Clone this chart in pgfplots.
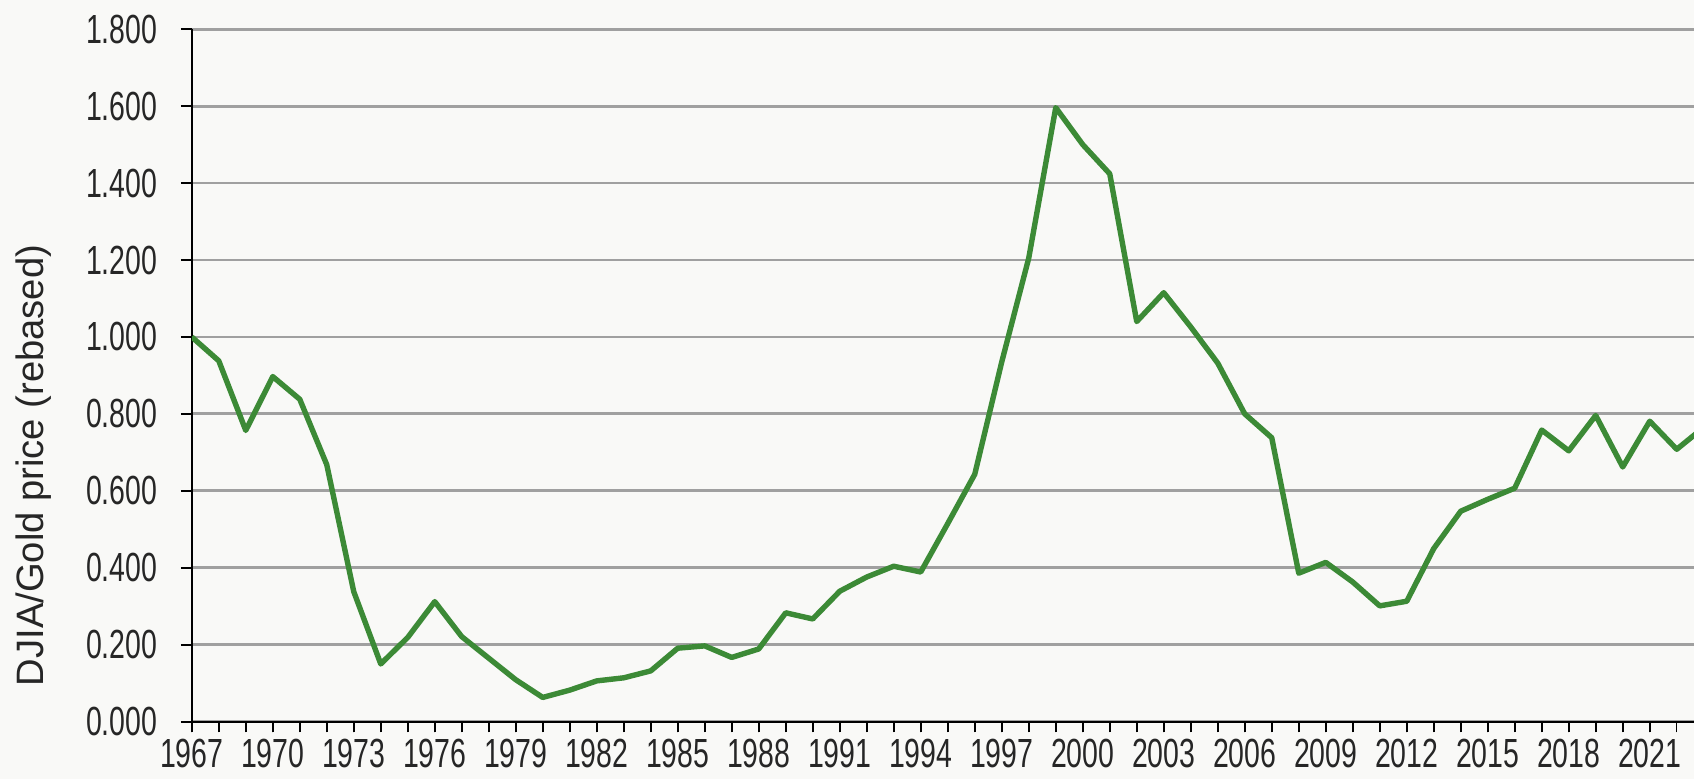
\documentclass[border=0pt]{standalone}
\usepackage{fontspec}
\setmainfont{Liberation Sans}
\newfontfamily\narrowfont{Liberation Sans}[FakeStretch=0.7]
\usepackage{pgfplots}
\pgfplotsset{compat=1.18}
\definecolor{linegreen}{RGB}{60,138,54}
\definecolor{gridgray}{RGB}{160,160,160}
\definecolor{paper}{RGB}{249,249,247}

\begin{document}
\begin{tikzpicture}
\fill[paper] (-53.25pt,-15.9pt) rectangle (417.15pt,200.4pt);
\begin{axis}[
    at={(0,0)}, anchor=south west,
    scale only axis,
    width=417.15pt, height=192.3pt,
    xmin=1967, xmax=2022.64,
    ymin=0, ymax=1.8,
    axis lines=left,
    axis line style={-, black, line width=0.6pt},
    xtick={1967,1970,...,2021},
    minor xtick={1967,...,2022},
    ytick={0,0.2,...,1.8},
    tick align=outside,
    major tick length=3pt,
    minor tick length=3pt,
    every tick/.style={black, line width=0.5pt},
    ymajorgrids,
    grid style={gridgray, line width=0.8pt},
    xticklabel style={/pgf/number format/1000 sep={}},
    /pgf/number format/assume math mode=true,
    yticklabel={\pgfmathprintnumber[fixed,fixed zerofill,precision=3]{\tick}},
    tick label style={font=\narrowfont\fontsize{11.3}{13}\selectfont, text=black!85},
    yticklabel style={xshift=-3pt},
    xticklabel style={yshift=1.8pt},
    ylabel={DJIA/Gold price (rebased)},
    every axis y label/.style={at={(axis description cs:-0.1055,0.37)}, rotate=90, anchor=center},
    label style={font=\fontsize{10.6}{12}\selectfont, text=black!85},
    clip=true,
]
\addplot[linegreen, line width=1.5pt, line join=round] coordinates {
(1967,1.000) (1968,0.938) (1969,0.757) (1970,0.897) (1971,0.838)
(1972,0.668) (1973,0.338) (1974,0.150) (1975,0.219) (1976,0.312)
(1977,0.221) (1978,0.165) (1979,0.109) (1980,0.063) (1981,0.082)
(1982,0.106) (1983,0.114) (1984,0.132) (1985,0.191) (1986,0.197)
(1987,0.167) (1988,0.189) (1989,0.283) (1990,0.267) (1991,0.339)
(1992,0.376) (1993,0.404) (1994,0.389) (1995,0.515) (1996,0.643)
(1997,0.935) (1998,1.205) (1999,1.596) (2000,1.500) (2001,1.424)
(2002,1.040) (2003,1.115) (2004,1.026) (2005,0.932) (2006,0.800)
(2007,0.738) (2008,0.386) (2009,0.414) (2010,0.363) (2011,0.301)
(2012,0.313) (2013,0.450) (2014,0.547) (2015,0.578) (2016,0.607)
(2017,0.758) (2018,0.704) (2019,0.796) (2020,0.662) (2021,0.781)
(2022,0.708) (2023,0.765)
};
\end{axis}
\pgfresetboundingbox
\path[use as bounding box] (-53.25pt,-15.9pt) rectangle (417.15pt,200.4pt);
\end{tikzpicture}
\end{document}
